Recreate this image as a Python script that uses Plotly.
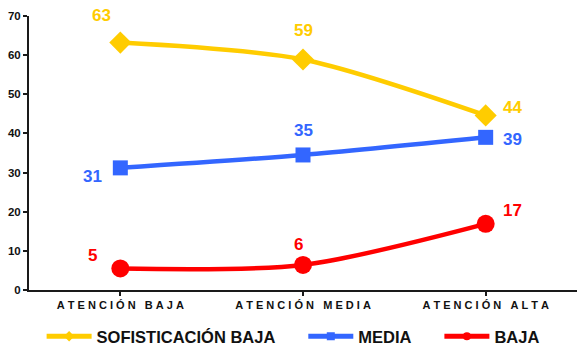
import plotly.graph_objects as go

categories = ["ATENCIÓN BAJA", "ATENCIÓN MEDIA", "ATENCIÓN ALTA"]
series_names = ["SOFISTICACIÓN BAJA", "MEDIA", "BAJA"]
sof_baja = [63.2, 58.9, 44.6]
sof_media = [31.2, 34.5, 39.0]
sof_low = [5.5, 6.4, 16.9]
labels_baja = ["63", "59", "44"]
labels_media = ["31", "35", "39"]
labels_low = ["5", "6", "17"]
y_ticks = [0, 10, 20, 30, 40, 50, 60, 70]

colors = ["#FFCC00", "#3366FF", "#FF0000"]
symbols = ["diamond", "square", "circle"]
msizes = [17, 15, 18]
legend_pad = [5, 5, 0]  # trailing spacing after legend text (style)
# label offsets in pixels (style)
offsets = [
    [(-19, 27), (0, 29), (27, 8)],
    [(-28, -9), (0, 24), (27, -2)],
    [(-28, 13), (-5, 20), (27, 13)],
]

FONT = "Liberation Sans, Arial, sans-serif"

def spaced(s):
    return "\u00a0".join(list(s.replace(" ", "\u00a0")))

xs = list(range(len(categories)))
fig = go.Figure()
all_vals = [sof_baja, sof_media, sof_low]
all_labels = [labels_baja, labels_media, labels_low]
for i, (name, vals) in enumerate(zip(series_names, all_vals)):
    fig.add_trace(go.Scatter(
        x=xs, y=vals, name=name, mode="lines+markers", showlegend=False,
        line=dict(color=colors[i], width=4.5, shape="spline", smoothing=0.8),
        marker=dict(symbol=symbols[i], size=msizes[i], color=colors[i]),
    ))
    for j, (v, lab) in enumerate(zip(vals, all_labels[i])):
        dx, dy = offsets[i][j]
        fig.add_annotation(x=xs[j], y=v, text=f"<b>{lab}</b>", showarrow=False,
                           xshift=dx, yshift=dy,
                           font=dict(family=FONT, size=17, color=colors[i]))
# legend-only entries with small markers
for i, name in enumerate(series_names):
    fig.add_trace(go.Scatter(
        x=[None], y=[None], name=f"<b>{name}</b>" + "\u00a0" * legend_pad[i],
        mode="lines+markers",
        line=dict(color=colors[i], width=5),
        marker=dict(symbol=symbols[i], size=8, color=colors[i]),
    ))

fig.update_layout(
    width=577, height=354,
    margin=dict(l=29, r=0, t=16, b=64),
    plot_bgcolor="white", paper_bgcolor="white",
    font=dict(family=FONT, color="#111111"),
    showlegend=True,
    legend=dict(orientation="h", x=0.508, xref="container", xanchor="center",
                y=-0.016, yref="container", yanchor="bottom",
                font=dict(family=FONT, size=16.5, color="#111111"),
                itemwidth=45, itemsizing="trace", traceorder="normal"),
)
fig.update_xaxes(
    range=[-0.5, 2.5], tickvals=xs, ticktext=[f"<b>{spaced(c)}</b>" for c in categories],
    tickfont=dict(family=FONT, size=11, color="#111111"),
    showline=True, linecolor="#1a1a1a", linewidth=2, showgrid=False, zeroline=False,
    ticks="outside", tickson="boundaries", ticklen=4, tickcolor="#1a1a1a", tickwidth=2,
    fixedrange=True,
)
fig.update_yaxes(
    range=[0, 70], tickvals=y_ticks, ticktext=[f"<b>{t}</b>" for t in y_ticks],
    tickfont=dict(family=FONT, size=11.5, color="#111111"),
    showline=True, linecolor="#1a1a1a", linewidth=2, showgrid=False, zeroline=False,
    ticks="outside", ticklen=4, tickcolor="#1a1a1a", tickwidth=2,
)

fig.write_html("out.html")
